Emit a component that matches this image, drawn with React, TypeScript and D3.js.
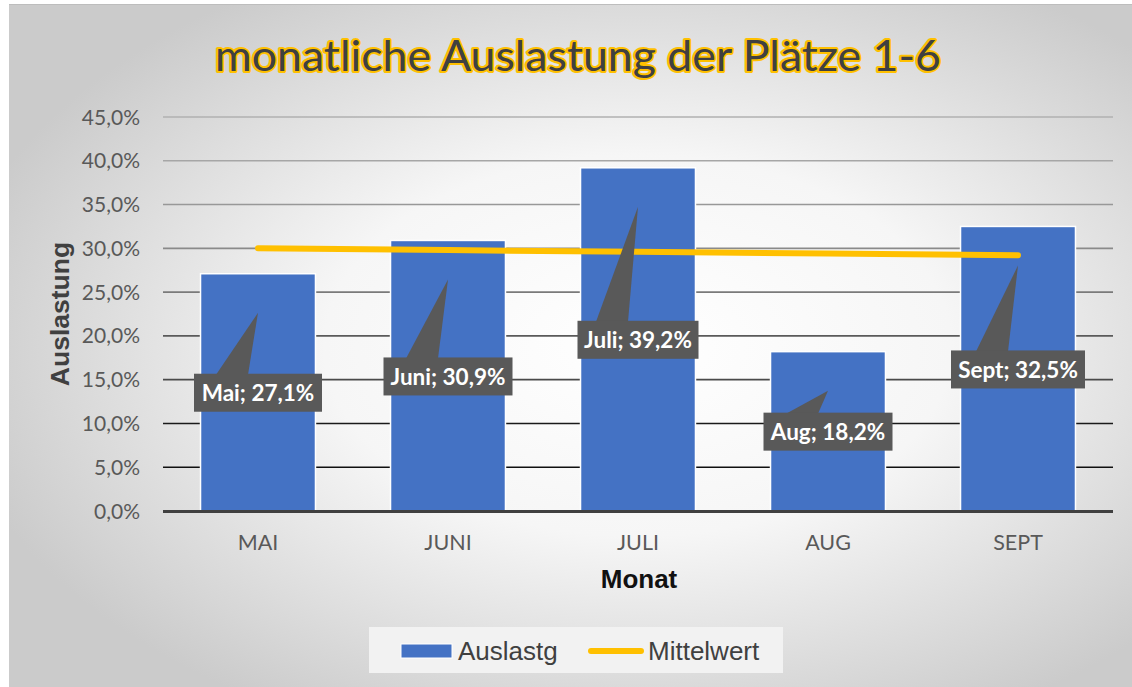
import React from "react";
import * as d3 from "d3";

const months = ["MAI", "JUNI", "JULI", "AUG", "SEPT"];
const labelNames = ["Mai", "Juni", "Juli", "Aug", "Sept"];
const auslastung = [27.1, 30.9, 39.2, 18.2, 32.5];
const mittelwert = [30.0, 29.8, 29.6, 29.4, 29.2];
const yTicks = [0, 5, 10, 15, 20, 25, 30, 35, 40, 45];
const title = "monatliche Auslastung der Plätze 1-6";
const yTitle = "Auslastung";
const xTitle = "Monat";
const legendItems = ["Auslastg", "Mittelwert"];

// callout layout (pixels below bar top for box centre, box widths)
const calloutBoxDy = [119, 136, 172, 80, 143];
const calloutTipDy = 39;
const calloutWidths = [128, 129, 121, 129, 134];

const W = 1132;
const H = 687;
const M = { left: 163, right: 1113, top: 117, bottom: 511 };

const gridColors = ["#3a3a3a", "#101010", "#1a1a1a", "#4a4a4a", "#5a5a5a", "#7a7a7a", "#8a8a8a", "#989898", "#a6a6a6", "#b0b0b0"];

const fmt = (v: number) => v.toFixed(1).replace(".", ",") + "%";

export default function App() {
  const x = d3.scaleBand<string>().domain(months).range([M.left, M.right]).paddingInner(0.395).paddingOuter(0.1975);
  const y = d3.scaleLinear().domain([0, 45]).range([M.bottom, M.top]);
  const cx = (i: number) => (x(months[i]) as number) + x.bandwidth() / 2;
  const line = d3
    .line<number>()
    .x((_, i) => cx(i))
    .y((d) => y(d));

  const calloutFont = "Lato, 'Open Sans', sans-serif";

  return (
    <svg width={W} height={H} style={{ position: "absolute", left: 0, top: 0 }} xmlns="http://www.w3.org/2000/svg">
      <defs>
        <radialGradient id="bg" cx="0.56" cy="0.5" r="0.62">
          <stop offset="0" stopColor="#ffffff" />
          <stop offset="0.45" stopColor="#f6f6f6" />
          <stop offset="1" stopColor="#cbcbcb" />
        </radialGradient>
      </defs>
      <rect x={0} y={0} width={W} height={H} fill="#ffffff" />
      <rect x={9} y={4} width={W - 9} height={H - 4} fill="url(#bg)" />
      <line x1={9} x2={W} y1={4.5} y2={4.5} stroke="#bdbdbd" strokeWidth={1} />

      {/* title */}
      <text
        x={578}
        y={71}
        textAnchor="middle"
        fontFamily="Lato, 'Open Sans', sans-serif"
        fontWeight={400}
        fontSize={43}
        fill="#404040"
        stroke="#FFC000"
        strokeWidth={4}
        strokeLinejoin="round"
        paintOrder="stroke"
        textLength={726}
        lengthAdjust="spacingAndGlyphs"
      >
        {title}
      </text>

      {/* gridlines */}
      {yTicks.map((t, i) =>
        t === 0 ? null : (
          <line key={t} x1={M.left} x2={M.right} y1={y(t)} y2={y(t)} stroke={gridColors[i]} strokeWidth={1.6} />
        )
      )}

      {/* y tick labels */}
      {yTicks.map((t) => (
        <text key={t} x={140} y={y(t)} dy="0.36em" textAnchor="end" fontFamily="Lato, sans-serif" fontSize={21} fill="#595959">
          {fmt(t)}
        </text>
      ))}

      {/* bars */}
      {auslastung.map((v, i) => (
        <rect
          key={months[i]}
          x={x(months[i])}
          y={y(v)}
          width={x.bandwidth()}
          height={y(0) - y(v)}
          fill="#4472C4"
          stroke="#ffffff"
          strokeWidth={1.5}
        />
      ))}

      {/* x axis line */}
      <line x1={M.left} x2={M.right} y1={y(0) + 0.5} y2={y(0) + 0.5} stroke="#404040" strokeWidth={3} />

      {/* x tick labels */}
      {months.map((m, i) => (
        <text key={m} x={cx(i)} y={550} textAnchor="middle" fontFamily="Lato, sans-serif" fontSize={21.5} fill="#595959">
          {m}
        </text>
      ))}

      {/* mean line */}
      <path d={line(mittelwert) || ""} fill="none" stroke="#FFC000" strokeWidth={6} strokeLinecap="round" />

      {/* callouts */}
      {auslastung.map((v, i) => {
        const bx = cx(i);
        const top = y(v);
        const boxCy = top + calloutBoxDy[i];
        const bw = calloutWidths[i];
        const bh = 38;
        const boxTop = boxCy - bh / 2;
        const tipY = top + calloutTipDy;
        const pointer = `M${bx - 42},${boxTop + 1} L${bx},${tipY} L${bx - 10},${boxTop + 1} Z`;
        return (
          <g key={"c" + i}>
            <path d={pointer} fill="#595959" />
            <rect x={bx - bw / 2} y={boxTop} width={bw} height={bh} fill="#595959" />
            <text
              x={bx}
              y={boxCy}
              dy="0.36em"
              textAnchor="middle"
              fontFamily={calloutFont}
              fontWeight={700}
              fontSize={22.5}
              fill="#ffffff"
            >
              {`${labelNames[i]}; ${fmt(v)}`}
            </text>
          </g>
        );
      })}

      {/* axis titles */}
      <text
        transform={`translate(69,314) rotate(-90)`}
        textAnchor="middle"
        fontFamily="'Liberation Sans', Arial, sans-serif"
        fontWeight={700}
        fontSize={26.5}
        fill="#404040"
      >
        {yTitle}
      </text>
      <text x={639} y={588} textAnchor="middle" fontFamily="'Liberation Sans', Arial, sans-serif" fontWeight={700} fontSize={26} fill="#111111">
        {xTitle}
      </text>

      {/* legend */}
      <rect x={369} y={627} width={414} height={46} fill="#f2f2f2" />
      <rect x={401} y={644} width={51} height={14} fill="#4472C4" stroke="#ffffff" strokeWidth={1} />
      <text x={458} y={660} fontFamily="'Liberation Sans', Arial, sans-serif" fontSize={26} fill="#404040">
        {legendItems[0]}
      </text>
      <line x1={591} x2={641} y1={651} y2={651} stroke="#FFC000" strokeWidth={6} strokeLinecap="round" />
      <text x={648} y={660} fontFamily="'Liberation Sans', Arial, sans-serif" fontSize={26} fill="#404040">
        {legendItems[1]}
      </text>
    </svg>
  );
}
